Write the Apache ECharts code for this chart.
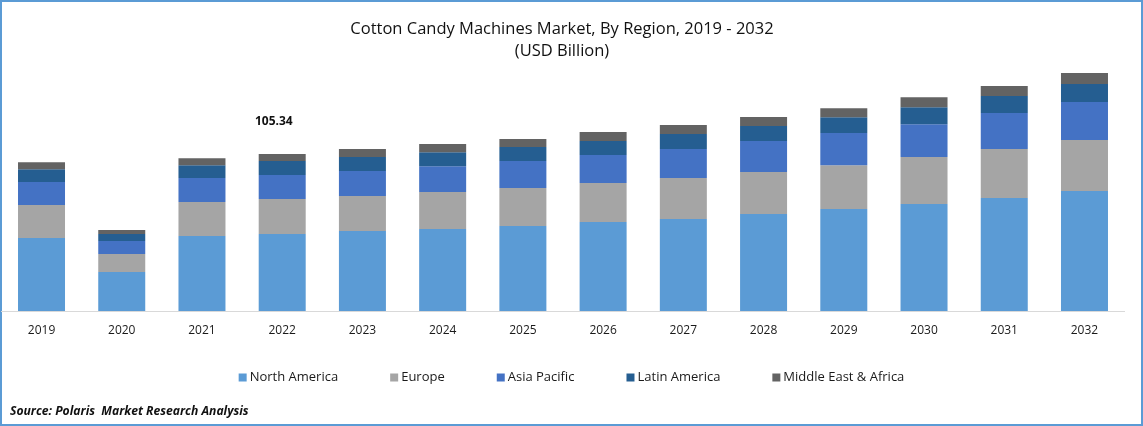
<!DOCTYPE html>
<html>
<head>
<meta charset="utf-8">
<style>
html, body { margin: 0; padding: 0; background: #fff; }
#chart { width: 1143px; height: 426px; }
</style>
<script src="https://cdn.jsdelivr.net/npm/echarts@6/dist/echarts.min.js"></script>
</head>
<body>
<div id="chart"></div>
<script>
// values, USD billion
const years = ['2019', '2020', '2021', '2022', '2023', '2024', '2025', '2026', '2027', '2028', '2029', '2030', '2031', '2032']
const northAmerica = [49.0, 26.2, 50.3, 51.7, 53.7, 55.0, 57.0, 59.7, 61.7, 65.1, 68.4, 71.8, 75.8, 80.5]
const europe = [22.1, 12.1, 22.8, 23.5, 23.5, 24.8, 25.5, 26.2, 27.5, 28.2, 29.5, 31.5, 32.9, 34.2]
const asiaPacific = [15.4, 8.7, 16.1, 16.1, 16.8, 17.4, 18.1, 18.8, 19.5, 20.8, 21.5, 22.1, 24.2, 25.5]
const latinAmerica = [8.7, 4.7, 8.7, 9.4, 9.4, 9.4, 9.4, 9.4, 10.1, 10.1, 10.7, 11.4, 11.4, 12.1]
const middleEast = [4.7, 2.7, 4.7, 4.7, 5.4, 5.4, 5.4, 6.0, 6.0, 6.0, 6.0, 6.7, 6.7, 7.4]

const font = '"Open Sans", sans-serif'

function bar(name, data, color) {
    return {
        name: name,
        type: 'bar',
        stack: 'total',
        barWidth: 47,
        itemStyle: { color: color },
        data: data
    }
}

const chart = echarts.init(document.getElementById('chart'), null, { renderer: 'canvas' })

chart.setOption({
    animation: false,
    title: {
        text: 'Cotton Candy Machines Market, By Region, 2019 - 2032\n(USD Billion)',
        left: 557,
        top: 13,
        textAlign: 'center',
        textStyle: {
            fontFamily: font,
            fontSize: 16.5,
            fontWeight: 'normal',
            color: '#111',
            lineHeight: 22
        }
    },
    legend: {
        left: 'center',
        top: 366,
        itemWidth: 8,
        itemHeight: 8,
        itemGap: 52,
        icon: 'rect',
        textStyle: { fontFamily: font, fontSize: 13, color: '#1a1a1a', padding: [0, 0, 0, -2] }
    },
    grid: { left: 1.4, right: 18.4, top: 72.6, height: 238.4 },
    xAxis: {
        type: 'category',
        data: years,
        axisTick: { show: false },
        axisLine: { lineStyle: { color: '#d9d9d9', width: 1 } },
        axisLabel: { fontFamily: font, fontSize: 12, color: '#1a1a1a', margin: 14 }
    },
    yAxis: { type: 'value', min: 0, max: 160, show: false },
    series: [
        bar('North America', northAmerica, '#5B9BD5'),
        bar('Europe', europe, '#A5A5A5'),
        bar('Asia Pacific', asiaPacific, '#4472C4'),
        bar('Latin America', latinAmerica, '#255E91'),
        bar('Middle East & Africa', middleEast, '#636363')
    ],
    graphic: [
        {
            type: 'rect',
            silent: true,
            shape: { x: 1, y: 1, width: 1141, height: 424 },
            style: { fill: 'none', stroke: '#5B9BD5', lineWidth: 2 }
        },
        {
            type: 'text',
            left: 255,
            top: 116,
            style: { text: '105.34', fontFamily: font, fontSize: 12, fontWeight: 'bold', fill: '#111' }
        },
        {
            type: 'text',
            left: 10,
            top: 406,
            style: { text: 'Source: Polaris  Market Research Analysis', fontFamily: font, fontSize: 12.15, fontWeight: 'bold', fontStyle: 'italic', fill: '#111' }
        }
    ]
})
</script>
</body>
</html>
